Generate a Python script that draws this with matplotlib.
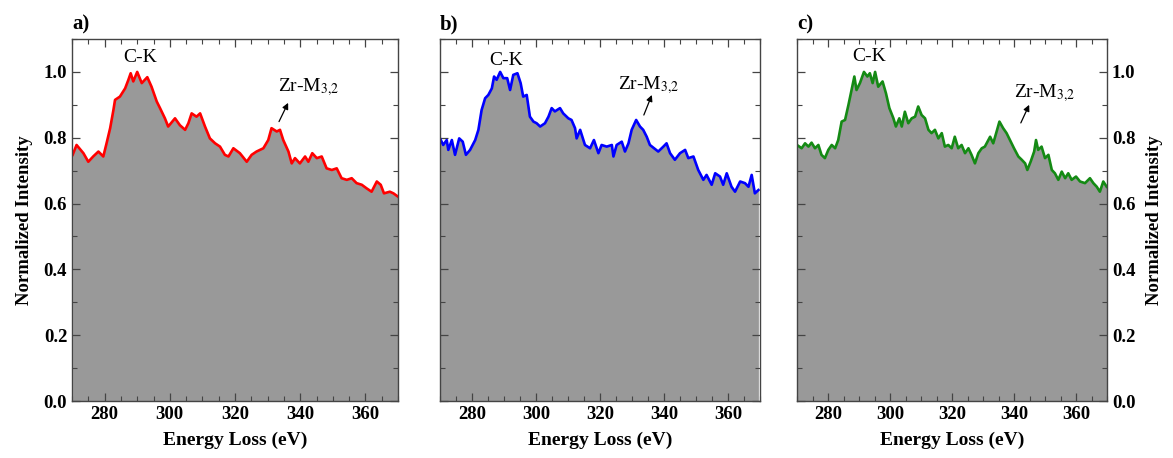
import numpy as np
import matplotlib
matplotlib.use("Agg")
import matplotlib.pyplot as plt
from matplotlib.ticker import MultipleLocator

# =====================================================
# 1. DONNÉES
# =====================================================

energie_a = [270.2, 271.4, 273.5, 275.0, 276.5, 278.1, 279.6, 280.6, 281.7, 282.7,
             283.2, 284.7, 286.3, 287.3, 288.0, 288.8, 290.0, 291.4, 293.1, 294.4,
             296.0, 297.0, 298.5, 299.5, 301.6, 303.1, 304.7, 305.7, 306.7, 308.2,
             309.3, 310.8, 312.3, 313.9, 315.4, 316.9, 318.0, 319.5, 321.5, 323.6,
             325.1, 326.6, 328.7, 330.2, 331.2, 332.8, 333.8, 334.8, 336.4, 337.4,
             338.4, 339.9, 341.5, 342.5, 343.7, 345.1, 346.6, 348.1, 349.7, 351.2,
             352.7, 354.3, 355.8, 357.3, 358.9, 360.4, 361.9, 363.5, 364.7, 365.7,
             367.5, 368.6, 370.0]
intensite_a = [0.748, 0.778, 0.753, 0.727, 0.743, 0.758, 0.743, 0.783, 0.829, 0.884,
               0.915, 0.925, 0.950, 0.976, 0.996, 0.971, 1.000, 0.966, 0.984, 0.955,
               0.910, 0.890, 0.859, 0.834, 0.859, 0.838, 0.824, 0.844, 0.874, 0.864,
               0.874, 0.834, 0.798, 0.783, 0.773, 0.748, 0.743, 0.768, 0.753, 0.727,
               0.748, 0.758, 0.768, 0.793, 0.829, 0.819, 0.824, 0.793, 0.758, 0.722,
               0.738, 0.722, 0.743, 0.727, 0.753, 0.738, 0.743, 0.707, 0.702, 0.707,
               0.677, 0.672, 0.677, 0.662, 0.657, 0.646, 0.636, 0.667, 0.657, 0.631,
               0.636, 0.631, 0.621]

energie_b = [270.0, 271.0, 272.1, 272.6, 273.7, 274.7, 276.0, 277.1, 278.1, 279.4,
             281.0, 282.0, 283.0, 284.1, 285.1, 286.2, 286.9, 287.7, 288.8, 289.8,
             291.0, 291.9, 292.9, 294.2, 295.2, 296.0, 297.1, 298.1, 299.2, 300.2,
             301.3, 302.8, 303.9, 304.9, 305.9, 307.5, 308.5, 310.1, 311.1, 312.2,
             312.7, 313.8, 315.3, 316.9, 318.1, 319.5, 320.5, 322.1, 323.7, 324.2,
             325.2, 326.8, 327.8, 328.9, 329.9, 331.3, 332.5, 333.5, 334.6, 335.6,
             336.9, 338.2, 339.8, 340.8, 341.9, 343.4, 345.0, 346.6, 347.6, 349.2,
             350.7, 352.3, 353.3, 354.9, 356.0, 357.5, 358.5, 359.6, 361.1, 362.2,
             363.8, 365.3, 366.4, 367.4, 368.4, 369.5]
intensite_b = [0.798, 0.778, 0.793, 0.763, 0.793, 0.748, 0.798, 0.788, 0.748, 0.763,
               0.793, 0.824, 0.884, 0.920, 0.930, 0.950, 0.986, 0.976, 1.000, 0.981,
               0.981, 0.945, 0.991, 0.996, 0.966, 0.925, 0.930, 0.864, 0.849, 0.844,
               0.834, 0.844, 0.864, 0.890, 0.880, 0.890, 0.874, 0.859, 0.854, 0.829,
               0.798, 0.824, 0.778, 0.768, 0.793, 0.753, 0.778, 0.773, 0.778, 0.743,
               0.778, 0.788, 0.758, 0.783, 0.824, 0.854, 0.834, 0.824, 0.803, 0.778,
               0.768, 0.758, 0.773, 0.783, 0.753, 0.733, 0.753, 0.763, 0.738, 0.743,
               0.702, 0.672, 0.687, 0.657, 0.692, 0.682, 0.657, 0.692, 0.651, 0.636,
               0.667, 0.662, 0.651, 0.687, 0.631, 0.641]

energie_c = [270.0, 271.5, 272.6, 273.7, 274.7, 275.8, 276.9, 277.9, 279.0, 280.1,
             281.2, 282.3, 283.3, 284.4, 285.5, 286.6, 287.6, 288.5, 289.2, 290.3,
             291.6, 292.7, 293.5, 294.4, 295.2, 296.2, 297.6, 298.7, 299.8, 301.1,
             301.9, 303.0, 303.8, 304.8, 305.9, 307.0, 308.1, 309.1, 310.2, 311.3,
             312.4, 313.4, 314.5, 315.6, 316.7, 317.7, 318.8, 319.9, 320.9, 322.0,
             323.1, 324.2, 325.3, 326.3, 327.4, 328.5, 329.6, 330.6, 332.3, 333.3,
             334.4, 335.3, 336.5, 337.6, 338.7, 340.0, 341.4, 342.5, 343.6, 344.3,
             345.4, 346.5, 347.1, 347.8, 348.9, 350.0, 351.1, 352.2, 353.2, 354.3,
             355.4, 356.5, 357.5, 358.6, 360.0, 361.3, 362.9, 364.5, 365.6, 366.7,
             367.7, 368.8, 369.9]
intensite_c = [0.778, 0.768, 0.783, 0.773, 0.785, 0.768, 0.778, 0.748, 0.738, 0.763,
               0.778, 0.768, 0.793, 0.849, 0.854, 0.900, 0.945, 0.986, 0.945, 0.966,
               1.000, 0.986, 0.996, 0.966, 1.000, 0.955, 0.971, 0.935, 0.890, 0.859,
               0.834, 0.859, 0.834, 0.879, 0.844, 0.859, 0.864, 0.895, 0.869, 0.859,
               0.824, 0.814, 0.824, 0.798, 0.814, 0.773, 0.778, 0.768, 0.803, 0.768,
               0.778, 0.753, 0.768, 0.748, 0.722, 0.753, 0.768, 0.773, 0.803, 0.783,
               0.819, 0.849, 0.829, 0.814, 0.793, 0.768, 0.743, 0.733, 0.722, 0.702,
               0.728, 0.758, 0.793, 0.763, 0.773, 0.738, 0.748, 0.702, 0.692, 0.672,
               0.697, 0.677, 0.692, 0.672, 0.682, 0.667, 0.662, 0.677, 0.662, 0.651,
               0.636, 0.667, 0.651]

panneaux = ["a)", "b)", "c)"]
couleurs = ["#ff0000", "#0000ff", "#148a14"]

# positions des annotations (energie, intensite)
pos_ck = [(290.9, 1.043), (290.8, 1.036), (293.2, 1.047)]
pos_zr_texte = [(333.2, 0.955), (325.6, 0.96), (340.0, 0.936)]
pos_zr_fleche = [((333.5, 0.849), (336.3, 0.906)),
                 ((333.7, 0.869), (336.2, 0.930)),
                 ((342.2, 0.845), (344.9, 0.900))]

donnees = [(energie_a, intensite_a), (energie_b, intensite_b), (energie_c, intensite_c)]

# =====================================================
# 2. FIGURE
# =====================================================

plt.rcParams["font.family"] = ["Liberation Serif", "DejaVu Serif"]
plt.rcParams["mathtext.fontset"] = "stix"

W, H = 1173, 458
fig = plt.figure(figsize=(W / 100, H / 100), dpi=100)

# bords gauche / largeur de chaque panneau en pixels
cadres = [(72, 326), (440, 320), (797, 310)]
bas, haut = 401, 39

for i, (x, y) in enumerate(donnees):
    gauche, largeur = cadres[i]
    ax = fig.add_axes([gauche / W, (H - bas) / H, largeur / W, (bas - haut) / H])

    ax.fill_between(x, 0, y, color="#999999", lw=0, zorder=1)
    ax.plot(x, y, color=couleurs[i], lw=1.9, zorder=2)

    ax.set_xlim(270, 370)
    ax.set_ylim(0, 1.1)
    ax.xaxis.set_major_locator(MultipleLocator(20))
    ax.xaxis.set_minor_locator(MultipleLocator(5))
    ax.yaxis.set_major_locator(MultipleLocator(0.2))
    ax.yaxis.set_minor_locator(MultipleLocator(0.1))
    ax.set_xticks([280, 300, 320, 340, 360])
    ax.tick_params(which="both", direction="in", top=True, right=True,
                   color="#444444", labelsize=13.5)
    ax.tick_params(which="major", length=6, width=0.9)
    ax.tick_params(which="minor", length=3.5, width=0.8)
    for s in ax.spines.values():
        s.set_color("#444444")
        s.set_linewidth(1.0)

    for lab in ax.get_xticklabels() + ax.get_yticklabels():
        lab.set_fontweight("bold")

    if i == 0:
        ax.set_ylabel("Normalized Intensity", fontsize=13.5, fontweight="bold", labelpad=8)
    elif i == 1:
        ax.tick_params(labelleft=False)
    else:
        ax.tick_params(labelleft=False, labelright=True)
        ax.yaxis.set_label_position("right")
        ax.set_ylabel("Normalized Intensity", fontsize=13.5, fontweight="bold",
                      rotation=90, labelpad=8)
    ax.set_yticks([0.0, 0.2, 0.4, 0.6, 0.8, 1.0])
    ax.set_yticklabels(["0.0", "0.2", "0.4", "0.6", "0.8", "1.0"], fontweight="bold")

    ax.set_xlabel("Energy Loss (eV)", fontsize=14, fontweight="bold", labelpad=6)

    ax.text(0.0, 1.012, panneaux[i], transform=ax.transAxes, fontsize=15,
            fontweight="bold", ha="left", va="bottom")

    ax.text(pos_ck[i][0], pos_ck[i][1], "C-K", fontsize=14, ha="center", va="center")
    ax.text(pos_zr_texte[i][0], pos_zr_texte[i][1], "Zr-M$_{3{,}2}$", fontsize=14,
            ha="left", va="center")
    depart, arrivee = pos_zr_fleche[i]
    ax.annotate("", xy=arrivee, xytext=depart,
                arrowprops=dict(arrowstyle="-|>", color="black", lw=0.9,
                                mutation_scale=9, shrinkA=0, shrinkB=0))

plt.savefig("out.png", dpi=100)
plt.close()
